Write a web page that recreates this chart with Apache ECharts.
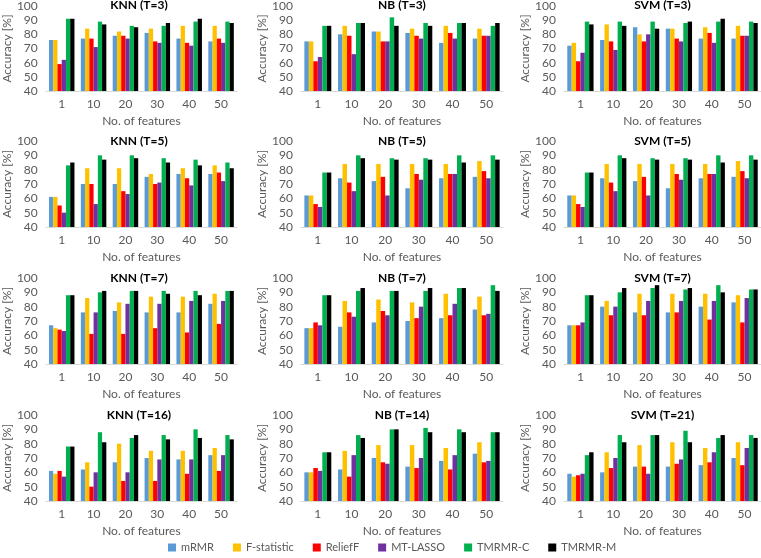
<!DOCTYPE html>
<html>
<head>
<meta charset="utf-8">
<script src="https://cdn.jsdelivr.net/npm/echarts@6/dist/echarts.min.js"></script>
<style>
html,body{margin:0;padding:0;background:#fff;}
#chart{width:761px;height:558px;}
</style>
</head>
<body>
<div id="chart"></div>
<script>
// ---- data ----
const categories = ['1', '10', '20', '30', '40', '50'];
const methods = ['mRMR', 'F-statistic', 'ReliefF', 'MT-LASSO', 'TMRMR-C', 'TMRMR-M'];
const panelTitles = ['KNN (T=3)', 'NB (T=3)', 'SVM (T=3)',
                     'KNN (T=5)', 'NB (T=5)', 'SVM (T=5)',
                     'KNN (T=7)', 'NB (T=7)', 'SVM (T=7)',
                     'KNN (T=16)', 'NB (T=14)', 'SVM (T=21)'];
const yTicks = [40, 50, 60, 70, 80, 90, 100];

// rows: mRMR, F-statistic, ReliefF, MT-LASSO, TMRMR-C, TMRMR-M
const KNN_T3 = [
  [76, 77, 79, 81, 77, 75],
  [76, 84, 82, 84, 86, 86],
  [59, 77, 79, 75, 74, 77],
  [62, 71, 77, 74, 72, 74],
  [91, 89, 86, 86, 89, 89],
  [91, 87, 85, 88, 91, 88]
];
const NB_T3 = [
  [75, 80, 82, 81, 74, 77],
  [75, 86, 82, 84, 86, 84],
  [61, 79, 75, 79, 81, 79],
  [64, 66, 75, 77, 77, 79],
  [86, 88, 92, 88, 88, 86],
  [86, 88, 86, 86, 88, 88]
];
const SVM_T3 = [
  [72, 76, 85, 84, 77, 77],
  [74, 87, 80, 84, 85, 86],
  [61, 75, 75, 77, 81, 79],
  [67, 69, 80, 75, 74, 79],
  [89, 89, 89, 88, 89, 89],
  [87, 86, 84, 89, 91, 88]
];
const KNN_T5 = [
  [61, 70, 70, 75, 77, 77],
  [61, 81, 81, 77, 81, 83],
  [55, 70, 65, 70, 74, 78],
  [50, 56, 63, 71, 69, 72],
  [83, 90, 90, 88, 87, 85],
  [85, 87, 88, 85, 83, 81]
];
const NB_T5 = [
  [62, 74, 72, 67, 74, 75],
  [62, 84, 84, 84, 84, 86],
  [56, 71, 75, 77, 77, 79],
  [54, 65, 62, 73, 77, 74],
  [78, 90, 88, 88, 90, 90],
  [78, 88, 87, 87, 85, 87]
];
const SVM_T5 = [
  [62, 74, 72, 67, 74, 75],
  [62, 84, 84, 84, 84, 86],
  [56, 71, 75, 77, 77, 79],
  [54, 65, 62, 73, 77, 74],
  [78, 90, 88, 88, 90, 90],
  [78, 88, 87, 87, 85, 87]
];
const KNN_T7 = [
  [67, 76, 77, 76, 76, 82],
  [65, 86, 83, 87, 87, 89],
  [64, 61, 61, 65, 62, 68],
  [63, 76, 82, 82, 84, 84],
  [88, 90, 91, 91, 91, 91],
  [88, 91, 91, 89, 88, 91]
];
const NB_T7 = [
  [65, 66, 69, 70, 72, 78],
  [65, 84, 85, 83, 89, 87],
  [69, 76, 77, 72, 74, 74],
  [67, 73, 74, 80, 82, 75],
  [88, 91, 91, 91, 93, 95],
  [88, 93, 91, 93, 93, 91]
];
const SVM_T7 = [
  [67, 80, 76, 76, 80, 83],
  [67, 84, 89, 89, 89, 88],
  [67, 74, 74, 76, 71, 69],
  [69, 80, 84, 84, 84, 86],
  [88, 90, 93, 92, 95, 92],
  [88, 93, 95, 93, 90, 92]
];
const KNN_T16 = [
  [61, 62, 67, 70, 69, 72],
  [59, 67, 80, 75, 75, 77],
  [61, 50, 54, 54, 59, 61],
  [57, 60, 60, 69, 69, 72],
  [78, 88, 84, 86, 90, 86],
  [78, 81, 86, 83, 84, 83]
];
const NB_T14 = [
  [60, 62, 70, 64, 68, 73],
  [60, 75, 79, 79, 77, 81],
  [63, 57, 67, 63, 62, 67],
  [61, 72, 66, 70, 72, 68],
  [74, 86, 90, 91, 90, 88],
  [74, 84, 90, 88, 88, 88]
];
const SVM_T21 = [
  [59, 60, 64, 64, 65, 70],
  [57, 74, 79, 81, 77, 81],
  [58, 63, 64, 66, 67, 65],
  [59, 70, 59, 69, 74, 77],
  [72, 86, 86, 89, 84, 86],
  [74, 81, 86, 81, 86, 84]
];
const panelData = [KNN_T3, NB_T3, SVM_T3, KNN_T5, NB_T5, SVM_T5,
                   KNN_T7, NB_T7, SVM_T7, KNN_T16, NB_T14, SVM_T21];

// ---- styling / layout ----
const colors = ['#5B9BD5', '#FFC000', '#FF0000', '#7030A0', '#00B050', '#000000'];
const FONT = 'Lato, "Open Sans", sans-serif';
const colLeft = [41, 301, 564];
const colWidth = [196, 202, 197];
const rowTop = [5, 141, 278, 415];
const gridH = 86;
const yNameGap = [30, 26, 28];

const grids = [], xAxes = [], yAxes = [], titles = [], series = [];
panelData.forEach((pd, i) => {
  const r = Math.floor(i / 3), c = i % 3;
  grids.push({left: colLeft[c], top: rowTop[r], width: colWidth[c], height: gridH, containLabel: false});
  xAxes.push({
    type: 'category', gridIndex: i, data: categories,
    axisLine: {lineStyle: {color: '#D9D9D9', width: 1}},
    axisTick: {show: false},
    axisLabel: {color: '#595959', fontSize: 12, fontFamily: FONT, margin: 7},
    name: 'No. of features', nameLocation: 'middle', nameGap: 24,
    nameTextStyle: {color: '#595959', fontSize: 12, fontFamily: FONT}
  });
  yAxes.push({
    type: 'value', gridIndex: i, min: yTicks[0], max: yTicks[yTicks.length - 1], interval: 10,
    axisLine: {show: false}, axisTick: {show: false}, splitLine: {show: false},
    axisLabel: {color: '#595959', fontSize: 12, fontFamily: FONT, margin: 8},
    name: 'Accuracy [%]', nameLocation: 'middle', nameGap: yNameGap[c], nameRotate: 90,
    nameTextStyle: {color: '#595959', fontSize: 12, fontFamily: FONT}
  });
  titles.push({
    text: panelTitles[i], left: colLeft[c] + colWidth[c] / 2, top: rowTop[r] - 6,
    textAlign: 'center', padding: 0,
    textStyle: {color: '#000', fontSize: 12, fontWeight: 'bold', fontFamily: FONT}
  });
  pd.forEach((vals, m) => {
    series.push({
      type: 'bar', name: methods[m], xAxisIndex: i, yAxisIndex: i,
      data: vals, barGap: '0%', barCategoryGap: '20%',
      itemStyle: {color: colors[m]}, animation: false
    });
  });
});

const chart = echarts.init(document.getElementById('chart'), null, {renderer: 'canvas'});
chart.setOption({
  animation: false,
  color: colors,
  title: titles,
  grid: grids,
  xAxis: xAxes,
  yAxis: yAxes,
  legend: {
    data: methods, top: 542, left: 168, itemWidth: 8, itemHeight: 8, itemGap: 19,
    icon: 'rect', padding: 0,
    textStyle: {color: '#595959', fontSize: 11, fontFamily: FONT}
  },
  series: series
});
</script>
</body>
</html>
